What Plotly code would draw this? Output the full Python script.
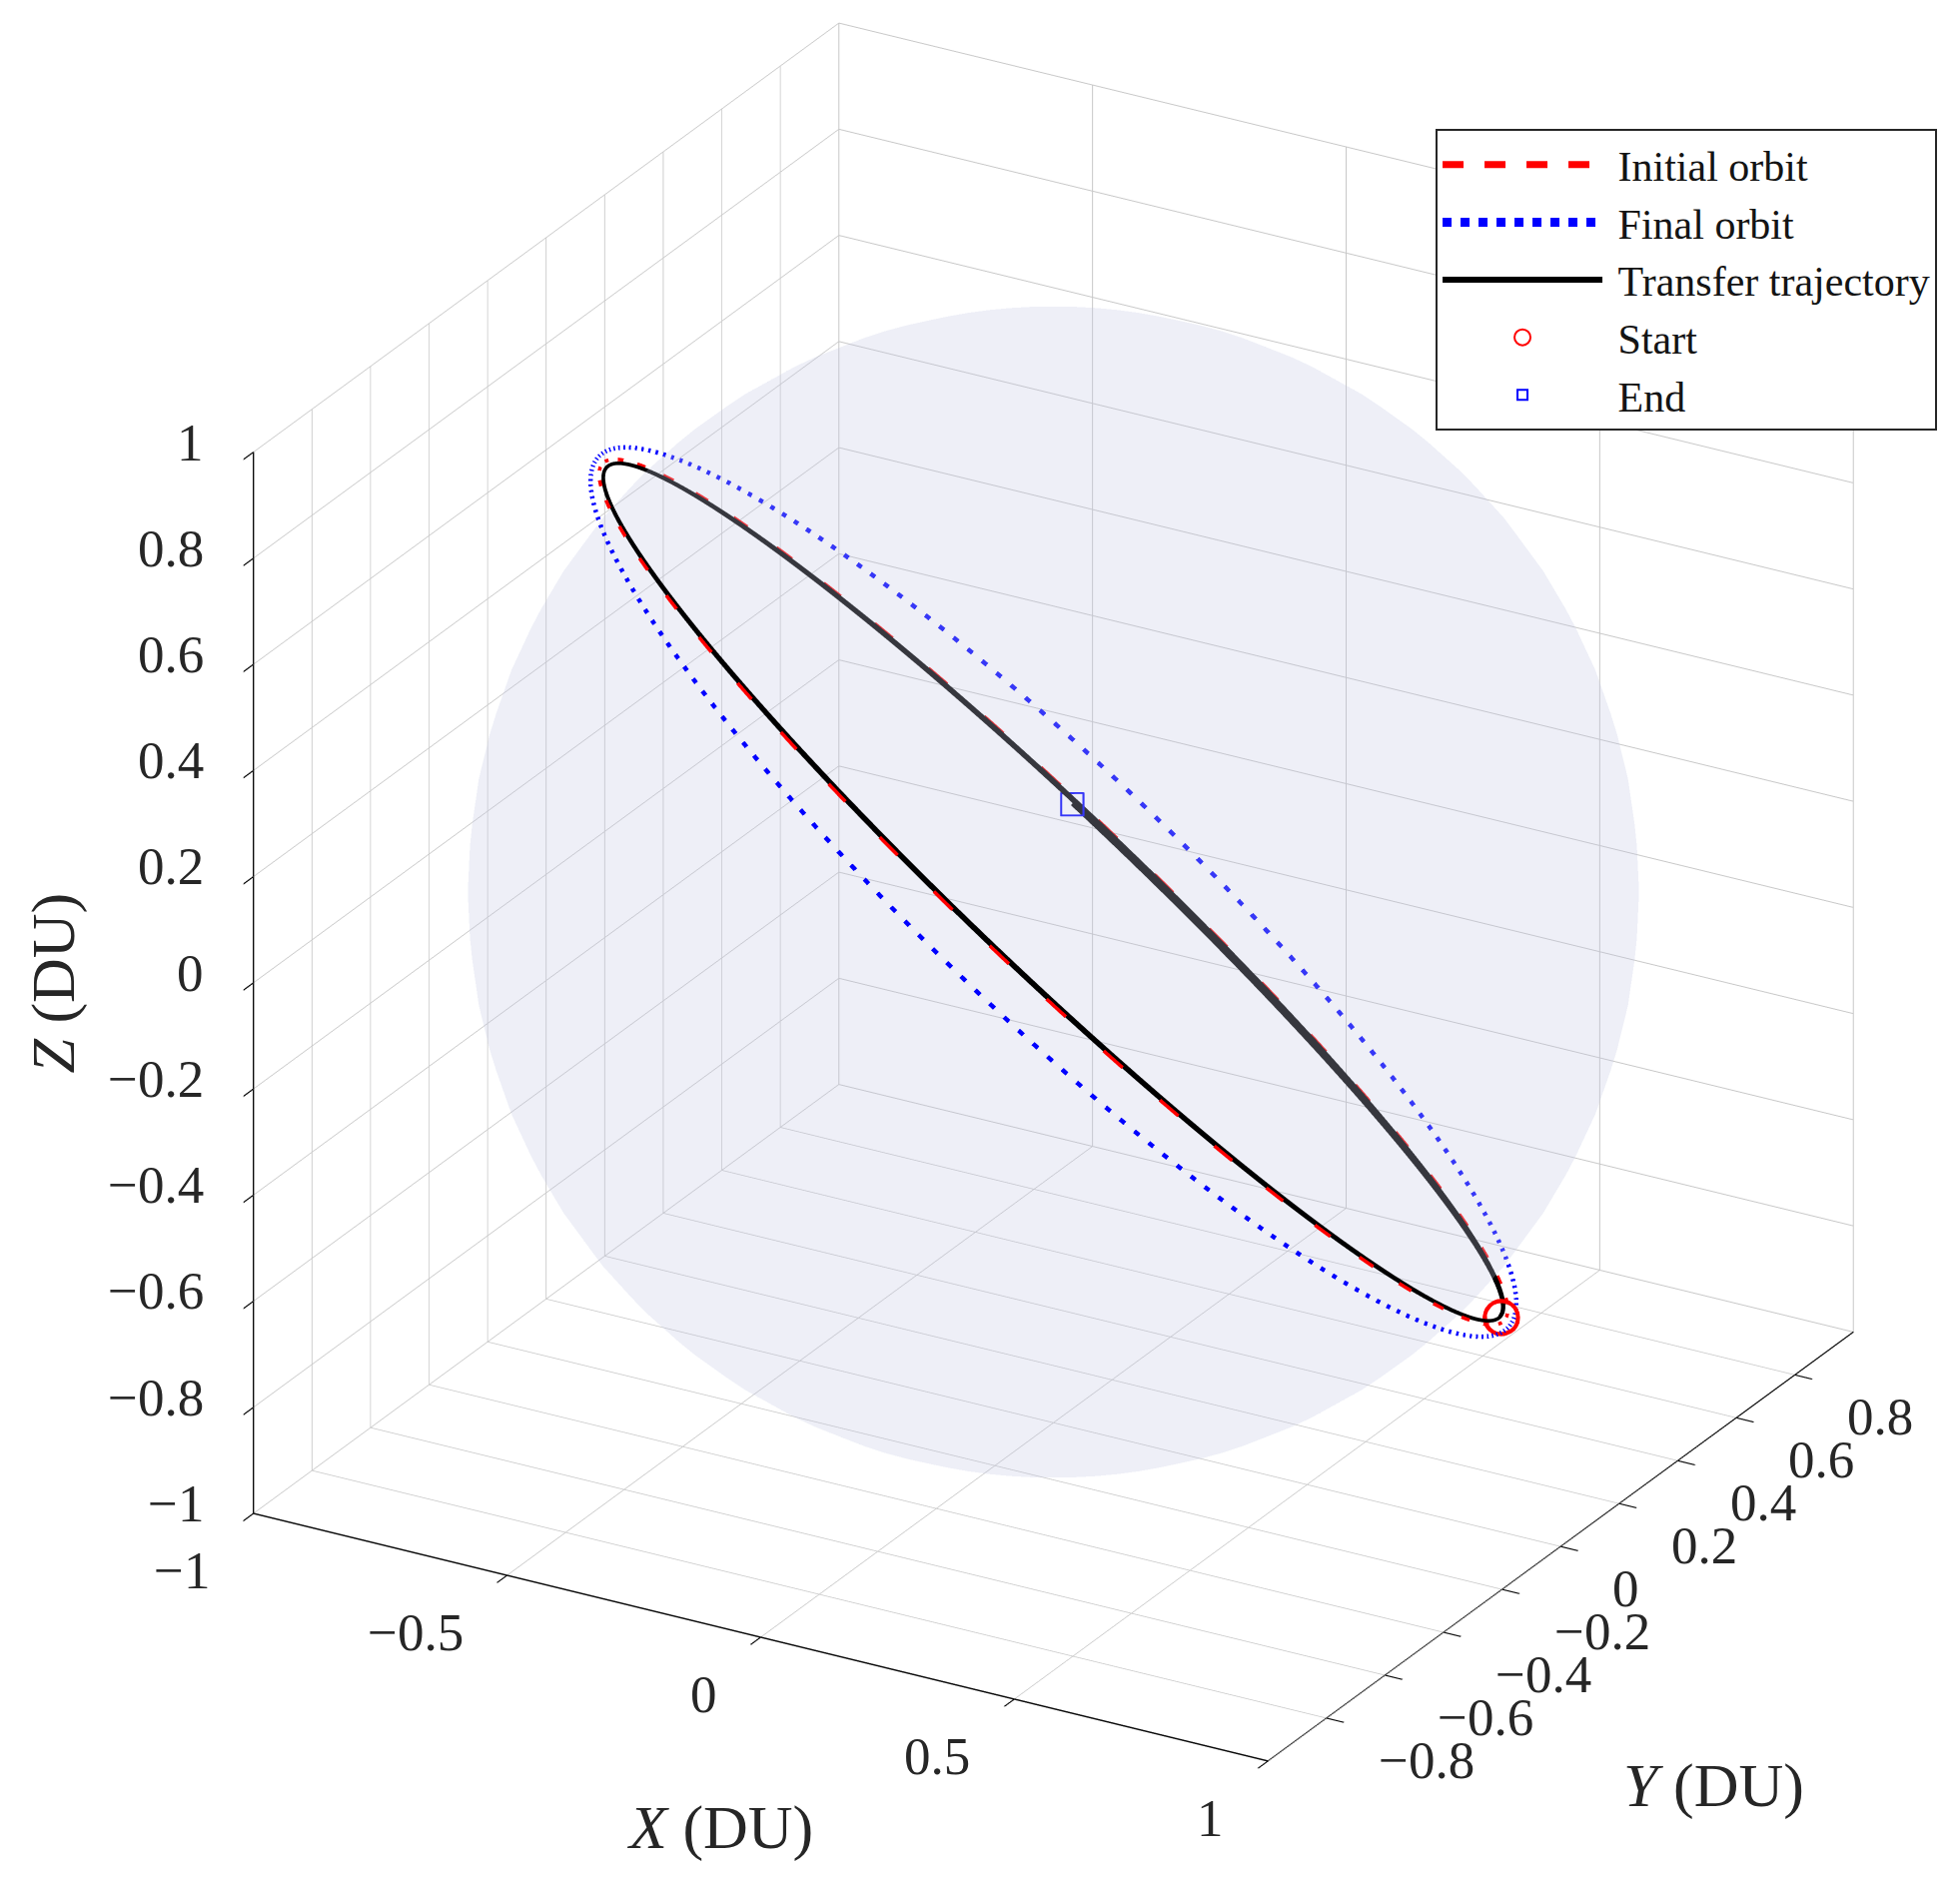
import numpy as np
import plotly.graph_objects as go

# ---------------- data ----------------
earth_radius = 1.0                     # DU

# circular orbits: radius (DU), inclination (deg), RAAN (deg)
initial_radius = 1.062
initial_inc = 45.0
initial_raan = 135.0

final_radius = 1.075
final_inc = 43.5
final_raan = 130.0

# transfer trajectory, one entry per arc (radius, inc, raan, arg. of latitude bounds in deg)
transfer_radius = [1.053, 1.052, 1.051]
transfer_inc = [45.0, 45.12, 45.25]
transfer_raan = [135.0, 135.3, 135.6]
transfer_u_bounds = [242.0, 602.0, 962.0, 1056.0]

x_ticks = [-1, -0.5, 0, 0.5, 1]
x_ticktext = ["\u22121", "\u22120.5", "0", "0.5", "1"]
y_ticks = [-0.8, -0.6, -0.4, -0.2, 0, 0.2, 0.4, 0.6, 0.8]
y_ticktext = ["\u22120.8", "\u22120.6", "\u22120.4", "\u22120.2", "0", "0.2", "0.4", "0.6", "0.8"]
z_ticks = [-1, -0.8, -0.6, -0.4, -0.2, 0, 0.2, 0.4, 0.6, 0.8, 1]
z_ticktext = ["\u22121", "\u22120.8", "\u22120.6", "\u22120.4", "\u22120.2", "0",
              "0.2", "0.4", "0.6", "0.8", "1"]
x_title = "<i>X</i> (DU)"
y_title = "<i>Y</i> (DU)"
z_title = "<i>Z</i> (DU)"
legend_names = ["Initial orbit", "Final orbit", "Transfer trajectory", "Start", "End"]


def orbit_xyz(r, inc, raan, u_deg):
    u = np.radians(u_deg)
    i = np.radians(inc)
    o = np.radians(raan)
    x = r * (np.cos(o) * np.cos(u) - np.sin(o) * np.sin(u) * np.cos(i))
    y = r * (np.sin(o) * np.cos(u) + np.cos(o) * np.sin(u) * np.cos(i))
    z = r * (np.sin(u) * np.sin(i))
    return x, y, z


full_u = np.linspace(0, 360, 721)
xi, yi, zi = orbit_xyz(initial_radius, initial_inc, initial_raan, full_u)
xf, yf, zf = orbit_xyz(final_radius, final_inc, final_raan, full_u)

tx, ty, tz = [], [], []
for k in range(len(transfer_radius)):
    uu = np.linspace(transfer_u_bounds[k], transfer_u_bounds[k + 1],
                     int(2 * (transfer_u_bounds[k + 1] - transfer_u_bounds[k])) + 1)
    a, b, c = orbit_xyz(transfer_radius[k], transfer_inc[k], transfer_raan[k], uu)
    tx.extend(a); ty.extend(b); tz.extend(c)

# sphere (Earth)
th = np.linspace(0, 2 * np.pi, 73)
ph = np.linspace(-np.pi / 2, np.pi / 2, 37)
TH, PH = np.meshgrid(th, ph)
sx = earth_radius * np.cos(PH) * np.cos(TH)
sy = earth_radius * np.cos(PH) * np.sin(TH)
sz = earth_radius * np.sin(PH)

FONT = "Liberation Serif"
INK = "rgb(38,38,38)"
NB = "\u00a0"

fig = go.Figure()
fig.add_trace(go.Surface(
    x=sx, y=sy, z=sz,
    colorscale=[[0, "rgb(193,198,225)"], [1, "rgb(193,198,225)"]],
    showscale=False, opacity=0.15, hoverinfo="skip", showlegend=False,
    lighting=dict(ambient=1.0, diffuse=0.0, specular=0.0, roughness=1.0, fresnel=0.0),
    contours=dict(x=dict(highlight=False), y=dict(highlight=False), z=dict(highlight=False)),
))
fig.add_trace(go.Scatter3d(x=xi, y=yi, z=zi, mode="lines", name=NB + legend_names[0],
                           line=dict(color="rgb(255,0,0)", width=7, dash="dash")))
fig.add_trace(go.Scatter3d(x=xf, y=yf, z=zf, mode="lines", name=NB + legend_names[1],
                           line=dict(color="rgb(0,0,255)", width=9, dash="dot")))
fig.add_trace(go.Scatter3d(x=tx, y=ty, z=tz, mode="lines", name=NB + legend_names[2],
                           line=dict(color="black", width=6)))
fig.add_trace(go.Scatter3d(x=[tx[0]], y=[ty[0]], z=[tz[0]], mode="markers",
                           name=NB + legend_names[3],
                           marker=dict(symbol="circle-open", size=21, color="rgb(255,0,0)",
                                       line=dict(color="rgb(255,0,0)", width=2))))
fig.add_trace(go.Scatter3d(x=[tx[-1]], y=[ty[-1]], z=[tz[-1]], mode="markers",
                           name=NB + legend_names[4],
                           marker=dict(symbol="square-open", size=10, color="rgb(0,0,255)",
                                       line=dict(color="rgb(0,0,255)", width=2))))


def axis(rng, tv):
    return dict(
        title=dict(text=""),
        range=rng, autorange=False, tickvals=tv, showticklabels=False,
        showbackground=False, showgrid=True, gridcolor="rgb(200,200,200)", gridwidth=2,
        showline=True, linecolor="rgb(10,10,10)", linewidth=3,
        ticks="outside", ticklen=20, tickwidth=3, tickcolor="rgb(10,10,10)",
        zeroline=False, showspikes=False,
    )


tick_font = dict(family=FONT, size=53, color=INK)
title_font = dict(family=FONT, size=62, color=INK)
ann = []
for t, s in zip(x_ticks, x_ticktext):
    ann.append(dict(x=t, y=-1, z=-1, text=s, showarrow=False, font=tick_font,
                    xanchor="right", yanchor="middle", xshift=-42, yshift=-57))
for t, s in zip(y_ticks, y_ticktext):
    ann.append(dict(x=1, y=t, z=-1, text=s, showarrow=False, font=tick_font,
                    xanchor="left", yanchor="middle", xshift=50, yshift=-42))
for t, s in zip(z_ticks, z_ticktext):
    ann.append(dict(x=-1, y=-1, z=t, text=s, showarrow=False, font=tick_font,
                    xanchor="right", yanchor="middle", xshift=-48, yshift=10))
ann.append(dict(x=0, y=-1, z=-1, text=x_title, showarrow=False, font=title_font,
                xanchor="center", yanchor="middle", xshift=-41, yshift=-191))
ann.append(dict(x=1, y=0, z=-1, text=y_title, showarrow=False, font=title_font,
                xanchor="center", yanchor="middle", xshift=153, yshift=-239))
ann.append(dict(x=-1, y=-1, z=0, text=z_title, showarrow=False, font=title_font,
                xanchor="center", yanchor="middle", xshift=-200, yshift=0, textangle=-90))

v = np.array([0.453, -0.785, 0.423])
d = 1.6
asp = 1.313
fig.update_layout(
    width=1962, height=1884,
    margin=dict(l=0, r=0, t=0, b=0),
    paper_bgcolor="white",
    font=dict(family=FONT, color=INK),
    scene=dict(
        domain=dict(x=[0.075, 1.0], y=[0.0521, 1.0]),
        xaxis=axis([-1, 1], x_ticks),
        yaxis=axis([-1, 1], y_ticks),
        zaxis=axis([-1, 1], z_ticks),
        aspectmode="manual", aspectratio=dict(x=asp, y=asp, z=asp),
        camera=dict(eye=dict(x=v[0] * d, y=v[1] * d, z=v[2] * d),
                    up=dict(x=0, y=0, z=1), center=dict(x=0, y=0, z=0),
                    projection=dict(type="orthographic")),
        bgcolor="white",
        annotations=ann,
    ),
    legend=dict(
        x=0.9883, xanchor="right", y=0.9315, yanchor="top",
        bgcolor="white", bordercolor=INK, borderwidth=2,
        font=dict(family=FONT, size=42, color="rgb(20,20,20)"),
        itemwidth=160, tracegroupgap=0,
    ),
    showlegend=True,
)

fig.write_html("out.html", config={"displayModeBar": False},
               post_script="document.body.style.margin='0';")
